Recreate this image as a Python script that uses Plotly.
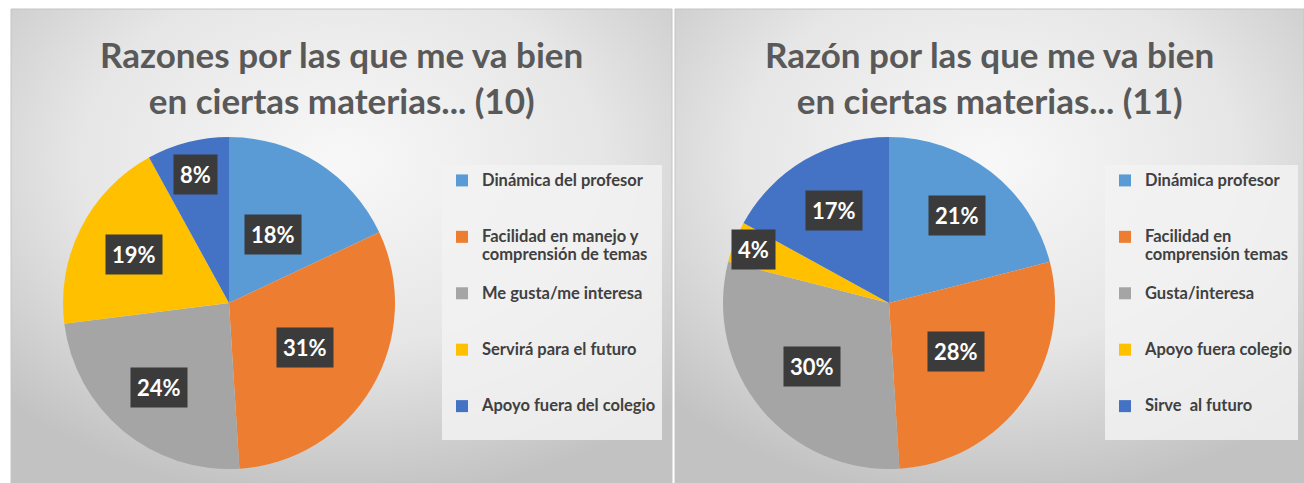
import base64
import math
import plotly.graph_objects as go

# ---------------- data ----------------
title_10 = "Razones por las que me va bien<br>en ciertas materias... (10)"
title_11 = "Razón por las que me va bien<br>en ciertas materias... (11)"

labels_10 = ["Dinámica del profesor",
             "Facilidad en manejo y<br>comprensión de temas",
             "Me gusta/me interesa",
             "Servirá para el futuro",
             "Apoyo fuera del colegio"]
values_10 = [18, 31, 24, 19, 8]

labels_11 = ["Dinámica profesor",
             "Facilidad en<br>comprensión temas",
             "Gusta/interesa",
             "Apoyo fuera colegio",
             "Sirve  al futuro"]
values_11 = [21, 28, 30, 4, 17]

colors = ["#5B9BD5", "#ED7D31", "#A5A5A5", "#FFC000", "#4472C4"]

# ---------------- layout geometry (px) ----------------
W, H = 1304, 483
R = 166                       # pie radius
centers = [(229, 303), (889, 303)]
panels = [(11, 9, 672, 483), (675, 9, 1304, 483)]
legend_pos = [(442, 165), (1105, 165)]
label_radius = [[0.49, 0.53, 0.66, 0.64, 0.80],
                [0.67, 0.50, 0.60, 0.88, 0.65]]
LEGEND_BASE = 13.7
LEGEND_TEXT = 16.5


def pad_label(lbl, lines):
    n = lbl.count("<br>") + 1
    body = "<br>".join(f'<span style="font-size:{LEGEND_TEXT}px">{part}</span>'
                       for part in lbl.split("<br>"))
    return body + "<br>&nbsp;" * max(0, lines - n)


def bg_uri():
    svg = (
        '<svg xmlns="http://www.w3.org/2000/svg" width="400" height="300" '
        'preserveAspectRatio="none" viewBox="0 0 400 300">'
        '<defs><radialGradient id="g" cx="50%" cy="32%" r="72%">'
        '<stop offset="0%" stop-color="#f8f8f8"/>'
        '<stop offset="55%" stop-color="#e6e6e6"/>'
        '<stop offset="100%" stop-color="#c2c2c2"/>'
        '</radialGradient></defs>'
        '<rect x="0" y="0" width="400" height="300" fill="url(#g)"/>'
        '</svg>'
    )
    return "data:image/svg+xml;base64," + base64.b64encode(svg.encode()).decode()


fig = go.Figure()
annotations = []
images = []
shapes = []

datasets = [(labels_10, values_10, title_10, "legend"),
            (labels_11, values_11, title_11, "legend2")]

for k, (labels, values, title, leg) in enumerate(datasets):
    cx, cy = centers[k]
    n = len(labels)
    fig.add_trace(go.Pie(
        labels=[pad_label(l, 3 if i < n - 1 else 2) for i, l in enumerate(labels)],
        values=values,
        sort=False,
        direction="clockwise",
        rotation=0,
        textinfo="none",
        hoverinfo="label+percent",
        marker=dict(colors=colors, line=dict(width=0)),
        domain=dict(x=[(cx - R) / W, (cx + R) / W],
                    y=[(H - cy - R) / H, (H - cy + R) / H]),
        legend=leg,
        showlegend=True,
    ))

    # percentage labels placed at the slice mid-angles
    total = sum(values)
    cum = 0.0
    for i, v in enumerate(values):
        mid = (cum + v / 2) / total
        cum += v
        th = 2 * math.pi * mid
        rr = label_radius[k][i] * R
        px = cx + rr * math.sin(th)
        py = cy - rr * math.cos(th)
        annotations.append(dict(
            x=px / W, y=1 - py / H, xref="paper", yref="paper",
            text=f"{round(100 * v / total)}%", showarrow=False,
            font=dict(family="Lato", size=22, color="white", weight="bold"),
            bgcolor="#3b3b3b", borderpad=6,
            xanchor="center", yanchor="middle",
        ))

    # panel background and title
    x0, y0, x1, y1 = panels[k]
    images.append(dict(
        source=bg_uri(), xref="paper", yref="paper",
        x=x0 / W, y=1 - y0 / H, sizex=(x1 - x0) / W, sizey=(y1 - y0) / H,
        xanchor="left", yanchor="top", sizing="stretch", layer="below",
    ))
    shapes.append(dict(type="rect", xref="paper", yref="paper",
                       x0=x0 / W, x1=x1 / W, y0=1 - y1 / H, y1=1 - y0 / H,
                       line=dict(color="#c4c4c4", width=1), layer="below"))
    annotations.append(dict(
        x=(x0 + x1) / 2 / W, y=1 - 77 / H, xref="paper", yref="paper",
        text=title, showarrow=False, align="center",
        font=dict(family="Lato", size=35, color="#595959", weight="bold"),
        xanchor="center", yanchor="middle",
    ))

legend_style = dict(
    bgcolor="rgba(242,242,242,0.85)",
    font=dict(family="Lato", size=LEGEND_BASE, color="#404040", weight="bold"),
    xanchor="left", yanchor="top", valign="top",
    xref="paper", yref="paper", itemclick=False,
)

fig.update_layout(
    width=W, height=H,
    margin=dict(l=0, r=0, t=0, b=0),
    paper_bgcolor="white",
    plot_bgcolor="white",
    annotations=annotations,
    images=images,
    shapes=shapes,
    legend=dict(x=legend_pos[0][0] / W, y=1 - legend_pos[0][1] / H, **legend_style),
    legend2=dict(x=legend_pos[1][0] / W, y=1 - legend_pos[1][1] / H, **legend_style),
)

fig.write_html("out.html", config={"displayModeBar": False},
               post_script="document.body.style.margin='0';")
